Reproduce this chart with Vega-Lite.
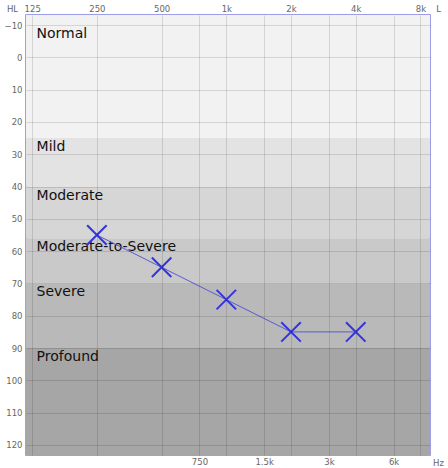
{
  "$schema": "https://vega.github.io/schema/vega-lite/v6.json",
  "width": 404,
  "height": 440,
  "autosize": {"type": "none"},
  "padding": {"left": 26, "top": 15, "right": 18, "bottom": 13},
  "background": "white",
  "config": {
    "view": {"stroke": "#7f7fdf", "strokeWidth": 1.5},
    "font": "DejaVu Sans",
    "axis": {
      "zindex": 1,
      "grid": true,
      "gridColor": "#000000",
      "gridOpacity": 0.12,
      "ticks": false,
      "domain": false,
      "labelOverlap": false,
      "labelFont": "DejaVu Sans",
      "labelFontSize": 8.5,
      "labelColor": "#666666",
      "titleFont": "DejaVu Sans",
      "titleFontSize": 8.5,
      "titleFontWeight": "normal",
      "titleColor": "#666666"
    },
    "axisY": {
      "grid": true,
      "zindex": 1,
      "values": [-10, 0, 10, 20, 30, 40, 50, 60, 70, 80, 90, 100, 110, 120],
      "labelOverlap": false,
      "labelPadding": 4,
      "titleAngle": 0,
      "titleX": -14,
      "titleY": -7,
      "titleAlign": "center",
      "titleBaseline": "middle"
    }
  },
  "datasets": {
    "bands": [
      {"band": "Normal", "db": -13.1, "db2": 25},
      {"band": "Mild", "db": 25, "db2": 40},
      {"band": "Moderate", "db": 40, "db2": 56},
      {"band": "Moderate-to-Severe", "db": 56, "db2": 70},
      {"band": "Severe", "db": 70, "db2": 90},
      {"band": "Profound", "db": 90, "db2": 123.1}
    ],
    "labels": [
      {"band": "Normal", "db": -10, "freq": 131},
      {"band": "Mild", "db": 25, "freq": 131},
      {"band": "Moderate", "db": 40, "freq": 131},
      {"band": "Moderate-to-Severe", "db": 56, "freq": 131},
      {"band": "Severe", "db": 70, "freq": 131},
      {"band": "Profound", "db": 90, "freq": 131}
    ],
    "audio": [
      {"freq": 250, "db": 55},
      {"freq": 500, "db": 65},
      {"freq": 1000, "db": 75},
      {"freq": 2000, "db": 85},
      {"freq": 4000, "db": 85}
    ]
  },
  "resolve": {"axis": {"x": "independent"}},
  "layer": [
    {
      "data": {"name": "bands"},
      "mark": {"type": "rect"},
      "encoding": {
        "y": {"field": "db", "type": "quantitative", "title": "HL",
              "scale": {"domain": [-13.1, 123.1], "reverse": true, "nice": false, "zero": false},
              "axis": {"grid": true, "zindex": 1, "values": [-10, 0, 10, 20, 30, 40, 50, 60, 70, 80, 90, 100, 110, 120], "labelOverlap": false}},
        "y2": {"field": "db2"},
        "color": {"field": "band", "type": "nominal", "legend": null,
                  "scale": {"domain": ["Normal", "Mild", "Moderate", "Moderate-to-Severe", "Severe", "Profound"],
                            "range": ["#f2f2f2", "#e3e3e3", "#d6d6d6", "#c9c9c9", "#b9b9b9", "#a6a6a6"]}}
      }
    },
    {
      "data": {"name": "labels"},
      "mark": {"type": "text", "align": "left", "baseline": "top", "dy": 2, "fontSize": 14, "color": "#111111", "font": "DejaVu Sans"},
      "encoding": {
        "x": {"field": "freq", "type": "quantitative", "scale": {"type": "log", "domain": [117, 8860], "nice": false}, "axis": null},
        "y": {"field": "db", "type": "quantitative", "title": "HL", "scale": {"domain": [-13.1, 123.1], "reverse": true, "nice": false, "zero": false},
              "axis": {"grid": true, "zindex": 1, "values": [-10, 0, 10, 20, 30, 40, 50, 60, 70, 80, 90, 100, 110, 120], "labelOverlap": false}},
        "text": {"field": "band"}
      }
    },
    {
      "data": {"name": "audio"},
      "mark": {"type": "line", "color": "#5a5ad0", "strokeWidth": 1},
      "encoding": {
        "x": {"field": "freq", "type": "quantitative", "scale": {"type": "log", "domain": [117, 8860], "nice": false},
              "axis": {"orient": "top", "values": [125, 250, 500, 1000, 2000, 4000, 8000], "grid": true, "zindex": 1,
                       "labelExpr": "datum.value >= 1000 ? (datum.value/1000) + 'k' : datum.value",
                       "labelPadding": 2, "title": "L", "titleX": 412, "titleY": -7, "titleAlign": "center", "titleBaseline": "middle"}},
        "y": {"field": "db", "type": "quantitative", "title": "HL", "scale": {"domain": [-13.1, 123.1], "reverse": true, "nice": false, "zero": false},
              "axis": {"grid": true, "zindex": 1, "values": [-10, 0, 10, 20, 30, 40, 50, 60, 70, 80, 90, 100, 110, 120], "labelOverlap": false}}
      }
    },
    {
      "data": {"name": "audio"},
      "mark": {"type": "point", "shape": "M-1,-1L1,1M-1,1L1,-1", "filled": false, "color": "#3434dc", "strokeWidth": 2, "size": 380, "opacity": 1},
      "encoding": {
        "x": {"field": "freq", "type": "quantitative", "scale": {"type": "log", "domain": [117, 8860], "nice": false},
              "axis": {"orient": "bottom", "values": [750, 1500, 3000, 6000], "grid": true, "zindex": 1,
                       "labelExpr": "datum.value >= 1000 ? (datum.value/1000) + 'k' : datum.value",
                       "labelPadding": 2, "title": "Hz", "titleX": 412, "titleY": 7, "titleAlign": "center", "titleBaseline": "middle"}},
        "y": {"field": "db", "type": "quantitative", "title": "HL", "scale": {"domain": [-13.1, 123.1], "reverse": true, "nice": false, "zero": false},
              "axis": {"grid": true, "zindex": 1, "values": [-10, 0, 10, 20, 30, 40, 50, 60, 70, 80, 90, 100, 110, 120], "labelOverlap": false}}
      }
    }
  ]
}
